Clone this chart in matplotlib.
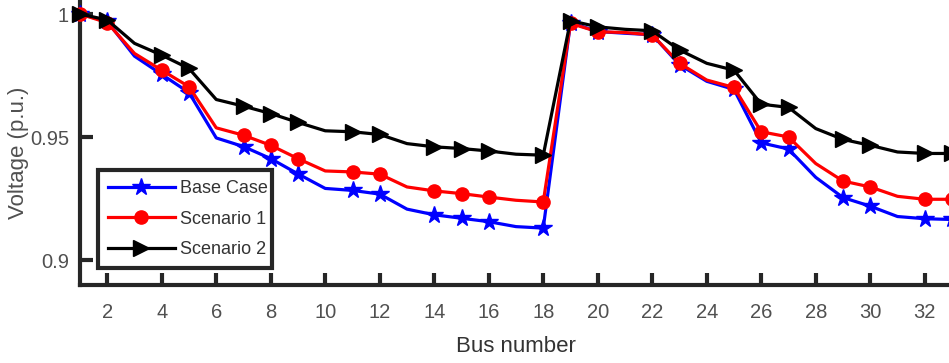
import matplotlib
matplotlib.use("Agg")
import matplotlib.pyplot as plt
import numpy as np

buses = list(range(1, 34))
base_case = [1.0000, 0.9970, 0.9829, 0.9755, 0.9681, 0.9497, 0.9462, 0.9413, 0.9351,
             0.9292, 0.9284, 0.9269, 0.9208, 0.9185, 0.9171, 0.9157, 0.9137, 0.9131,
             0.9965, 0.9929, 0.9922, 0.9916, 0.9794, 0.9727, 0.9694, 0.9477, 0.9452,
             0.9337, 0.9255, 0.9220, 0.9178, 0.9169, 0.9166]
scenario1 = [1.0000, 0.9965, 0.9840, 0.9772, 0.9705, 0.9538, 0.9508, 0.9467, 0.9413,
             0.9363, 0.9359, 0.9350, 0.9298, 0.9282, 0.9271, 0.9257, 0.9244, 0.9237,
             0.9962, 0.9928, 0.9925, 0.9915, 0.9800, 0.9732, 0.9702, 0.9522, 0.9501,
             0.9393, 0.9322, 0.9298, 0.9260, 0.9248, 0.9248]
scenario2 = [1.0000, 0.9976, 0.9881, 0.9833, 0.9779, 0.9653, 0.9626, 0.9596, 0.9560,
             0.9526, 0.9522, 0.9511, 0.9474, 0.9461, 0.9454, 0.9444, 0.9431, 0.9427,
             0.9973, 0.9948, 0.9938, 0.9932, 0.9854, 0.9800, 0.9772, 0.9634, 0.9621,
             0.9535, 0.9491, 0.9467, 0.9440, 0.9434, 0.9434]
marker_buses = [1, 2, 4, 5, 7, 8, 9, 11, 12, 14, 15, 16, 18, 19, 20, 22, 23, 25, 26, 27, 29, 30, 32, 33]
labels = ["Base Case", "Scenario 1", "Scenario 2"]
xticks = list(range(2, 33, 2))
yticks = [0.9, 0.95, 1.0]
ytick_labels = ["0.9", "0.95", "1"]

plt.rcParams['font.family'] = ['Liberation Sans', 'DejaVu Sans']
tc = '#262626'

W, H = 949, 363
fig = plt.figure(figsize=(W / 100, H / 100), dpi=100)
left, right, top, bottom = 80, 952, 0, 285
ax = fig.add_axes([left / W, 1 - bottom / H, (right - left) / W, (bottom - top) / H])

mk_idx = [b - 1 for b in marker_buses]
ax.plot(buses, base_case, color='blue', lw=2.3, marker='*', ms=13, markevery=mk_idx,
        label=labels[0], clip_on=False, zorder=3)
ax.plot(buses, scenario1, color='red', lw=2.3, marker='o', ms=9.5, markevery=mk_idx,
        label=labels[1], clip_on=False, zorder=4)
ax.plot(buses, scenario2, color='black', lw=2.3, marker='>', ms=11, markevery=mk_idx,
        label=labels[2], clip_on=False, zorder=5)

ax.set_xlim(1, 33)
ax.set_ylim(0.89, 1.0057)
ax.set_xticks(xticks)
ax.set_yticks(yticks)
ax.set_yticklabels(ytick_labels)

for s in ['top', 'right']:
    ax.spines[s].set_visible(False)
for s in ['left', 'bottom']:
    ax.spines[s].set_linewidth(3)
    ax.spines[s].set_color(tc)
ax.tick_params(direction='in', length=9, width=3, color=tc, labelcolor='#505050',
               labelsize=14.5)
ax.tick_params(axis='x', pad=13)
ax.tick_params(axis='y', pad=8)

ax.set_xlabel("Bus number", fontsize=16, color='#333333', labelpad=10)
ax.set_ylabel("Voltage (p.u.)", fontsize=16, color='#505050')
ax.yaxis.set_label_coords(-51 / (right - left), (285 - 153) / 285)

leg = ax.legend(loc='lower left', bbox_to_anchor=(98 / W, 1 - 268 / H, 174 / W, 100 / H),
                bbox_transform=fig.transFigure, mode='expand', fontsize=13,
                fancybox=False, framealpha=1, edgecolor=tc, handlelength=3.7,
                borderpad=0.55, labelspacing=0.75, handletextpad=0.3, borderaxespad=0)
leg.get_frame().set_linewidth(3)
for t in leg.get_texts():
    t.set_color('#333333')

fig.savefig("out.png", dpi=100)
